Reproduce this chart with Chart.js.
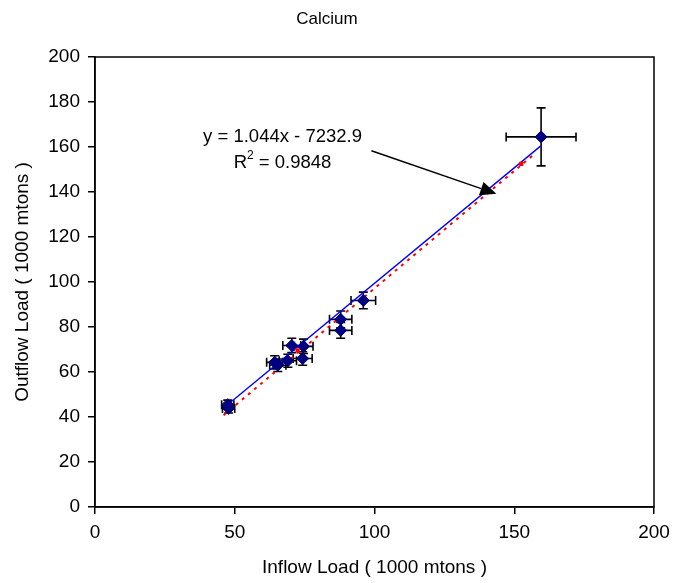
<!DOCTYPE html>
<html><head><meta charset="utf-8">
<script src="https://cdn.jsdelivr.net/npm/chart.js@4"></script>
<style>html,body{margin:0;padding:0;background:#fff}#wrap{width:674px;height:583px}</style>
</head><body><div id="wrap"><canvas id="c" width="674" height="583"></canvas></div>
<script>
const chartTitle = "Calcium";
const xTitle = "Inflow Load ( 1000 mtons )";
const yTitle = "Outflow Load ( 1000 mtons )";
const xTicks = [0, 50, 100, 150, 200];
const yTicks = [0, 20, 40, 60, 80, 100, 120, 140, 160, 180, 200];
const inflow   = [47.5, 47.8, 64.3, 65.4, 69.0, 70.4, 74.6, 74.3, 87.9, 87.9, 96.0, 159.6];
const outflow  = [45.5, 43.8, 64.3, 63.0, 65.0, 71.8, 71.4, 66.0, 83.4, 78.5, 91.8, 164.5];
const inflowErr  = [2.2, 2.2, 2.9, 2.9, 3.1, 3.2, 3.4, 3.4, 4.0, 4.0, 4.4, 12.5];
const outflowErr = [2.0, 2.0, 2.9, 2.8, 2.9, 3.2, 3.2, 3.0, 3.7, 3.5, 3.7, 12.9];
const trendSlope = 1.044, trendIntercept = -7.2329;
const trendRange = [46, 157];
const blueLineX = [47.0, 159.5];
const blueLineY = [45.0, 160.5];
const redMarkX = [72.5, 152.5];
const redMarkY = [69.6, 152.5];
const eqText = "y = 1.044x - 7232.9";
const r2Value = "0.9848";
const eqPos = [67.1, 164.5];
const r2Pos = [67.1, 153.0];
const arrowFrom = [98.9, 158.3];
const arrowTo = [143.6, 139.2];

const FONT = "'Liberation Sans', Arial, sans-serif";
const scatterPts = inflow.map((x, i) => ({x, y: outflow[i]}));
const trendPts = trendRange.map(x => ({x, y: trendSlope * x + trendIntercept}));
const bluePts = blueLineX.map((x, i) => ({x, y: blueLineY[i]}));
const redPts = redMarkX.map((x, i) => ({x, y: redMarkY[i]}));

const errPlugin = {
  id: 'extras',
  beforeDatasetsDraw(chart) {
    const {ctx, chartArea: a, scales: {x, y}} = chart;
    ctx.save();
    ctx.strokeStyle = '#000'; ctx.lineWidth = 1.6;
    const cap = 4.5;
    inflow.forEach((vx, i) => {
      const px = x.getPixelForValue(vx), py = y.getPixelForValue(outflow[i]);
      const x1 = x.getPixelForValue(vx - inflowErr[i]), x2 = x.getPixelForValue(vx + inflowErr[i]);
      const y1 = y.getPixelForValue(outflow[i] - outflowErr[i]), y2 = y.getPixelForValue(outflow[i] + outflowErr[i]);
      ctx.beginPath();
      ctx.moveTo(x1, py); ctx.lineTo(x2, py);
      ctx.moveTo(x1, py - cap); ctx.lineTo(x1, py + cap);
      ctx.moveTo(x2, py - cap); ctx.lineTo(x2, py + cap);
      ctx.moveTo(px, y1); ctx.lineTo(px, y2);
      ctx.moveTo(px - cap, y1); ctx.lineTo(px + cap, y1);
      ctx.moveTo(px - cap, y2); ctx.lineTo(px + cap, y2);
      ctx.stroke();
    });
    ctx.restore();
  },
  afterDraw(chart) {
    const {ctx, chartArea: a, scales: {x, y}} = chart;
    ctx.save();
    ctx.strokeStyle = '#000'; ctx.lineWidth = 1.5;
    ctx.strokeRect(a.left, a.top, a.right - a.left, a.bottom - a.top);
    ctx.fillStyle = '#000';
    ctx.font = '18.5px ' + FONT;
    ctx.textAlign = 'center'; ctx.textBaseline = 'middle';
    ctx.fillText(eqText, x.getPixelForValue(eqPos[0]), y.getPixelForValue(eqPos[1]));
    const rx = x.getPixelForValue(r2Pos[0]), ry = y.getPixelForValue(r2Pos[1]);
    const s1 = 'R', s2 = ' = ' + r2Value;
    const w1 = ctx.measureText(s1).width, w3 = ctx.measureText(s2).width;
    ctx.font = '12px ' + FONT;
    const w2 = ctx.measureText('2').width;
    const total = w1 + w2 + w3;
    let sx = rx - total / 2;
    ctx.textAlign = 'left';
    ctx.font = '18.5px ' + FONT;
    ctx.fillText(s1, sx, ry);
    ctx.font = '12px ' + FONT;
    ctx.fillText('2', sx + w1, ry - 7);
    ctx.font = '18.5px ' + FONT;
    ctx.fillText(s2, sx + w1 + w2, ry);
    const ax1 = x.getPixelForValue(arrowFrom[0]), ay1 = y.getPixelForValue(arrowFrom[1]);
    const ax2 = x.getPixelForValue(arrowTo[0]), ay2 = y.getPixelForValue(arrowTo[1]);
    const ang = Math.atan2(ay2 - ay1, ax2 - ax1);
    const hl = 16, hw = 7;
    const bx = ax2 - hl * Math.cos(ang), by = ay2 - hl * Math.sin(ang);
    ctx.strokeStyle = '#000'; ctx.lineWidth = 1.5;
    ctx.beginPath(); ctx.moveTo(ax1, ay1); ctx.lineTo(bx, by); ctx.stroke();
    ctx.beginPath();
    ctx.moveTo(ax2, ay2);
    ctx.lineTo(bx + hw * Math.sin(ang), by - hw * Math.cos(ang));
    ctx.lineTo(bx - hw * Math.sin(ang), by + hw * Math.cos(ang));
    ctx.closePath(); ctx.fill();
    ctx.restore();
  }
};

new Chart(document.getElementById('c'), {
  type: 'scatter',
  data: {
    datasets: [
      {label: 'Trend', data: trendPts, showLine: true, borderColor: '#ff0000', borderWidth: 2,
       borderDash: [3, 5], pointRadius: 0, order: 3},
      {label: 'Line', data: bluePts, showLine: true, borderColor: '#0000ff', borderWidth: 1.4,
       pointRadius: 0, order: 2},
      {label: 'Ca', data: scatterPts, pointStyle: 'rectRot', pointRadius: 6,
       backgroundColor: '#000080', borderColor: '#000080', borderWidth: 1, order: 1},
      {label: 'Mark', data: redPts, pointStyle: 'rect', pointRadius: 3,
       backgroundColor: '#ff0000', borderColor: '#ff0000', borderWidth: 0, order: 0}
    ]
  },
  options: {
    responsive: false, animation: false,
    layout: {padding: {left: 0, right: 20, top: 0, bottom: 0}},
    plugins: {
      legend: {display: false}, tooltip: {enabled: false},
      title: {display: true, text: chartTitle, color: '#000',
        font: {family: FONT, size: 17, weight: 'normal'}, padding: {top: 9, bottom: 27.6}}
    },
    scales: {
      x: {
        type: 'linear', min: 0, max: 200,
        afterBuildTicks: s => { s.ticks = xTicks.map(v => ({value: v})); },
        afterFit: s => { s.height = 76; s.paddingRight = 0; s.paddingLeft = 0; },
        grid: {drawOnChartArea: false, drawTicks: true, tickLength: 7, color: '#000', lineWidth: 1.5},
        border: {display: true, color: '#000', width: 1.5},
        ticks: {color: '#000', font: {family: FONT, size: 19}, padding: 7, maxRotation: 0},
        title: {display: true, text: xTitle, color: '#000', font: {family: FONT, size: 19}, padding: {top: 4, bottom: 4}}
      },
      y: {
        type: 'linear', min: 0, max: 200,
        afterBuildTicks: s => { s.ticks = yTicks.map(v => ({value: v})); },
        afterFit: s => { s.width = 95; },
        grid: {drawOnChartArea: false, drawTicks: true, tickLength: 7, color: '#000', lineWidth: 1.5},
        border: {display: true, color: '#000', width: 1.5},
        ticks: {color: '#000', font: {family: FONT, size: 19}, padding: 8},
        title: {display: true, text: yTitle, color: '#000', font: {family: FONT, size: 19}, padding: {top: 11, bottom: 4}}
      }
    }
  },
  plugins: [errPlugin]
});
</script></body></html>
